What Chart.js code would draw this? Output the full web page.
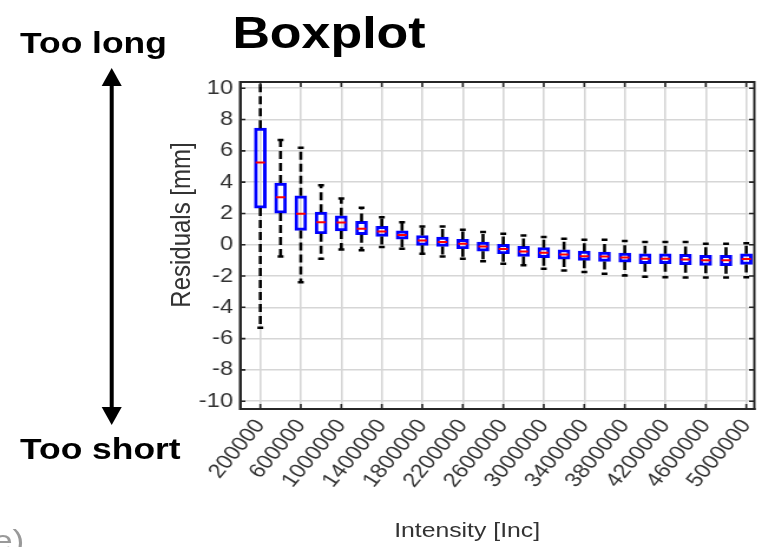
<!DOCTYPE html>
<html><head><meta charset="utf-8">
<script src="https://cdn.jsdelivr.net/npm/chart.js@4.4.1/dist/chart.umd.min.js"></script>
<style>
html,body{margin:0;padding:0;background:#fff;overflow:hidden;width:762px;height:547px}
#wrap{position:absolute;left:0;top:0;width:646px;height:547px;transform:scaleX(1.1796);transform-origin:0 0}
#c{position:absolute;left:0;top:0}
.t{position:absolute;font-family:"Liberation Sans",Arial,sans-serif;white-space:nowrap;line-height:1}
svg{position:absolute;left:0;top:0}
</style></head><body>
<div id="wrap">
<canvas id="c" width="646" height="547"></canvas>
<svg width="646" height="547">
  <line x1="94.7" y1="84" x2="94.7" y2="409" stroke="#000" stroke-width="3.4"/>
  <polygon points="94.7,68 86.2,86 103.2,86" fill="#000"/>
  <polygon points="94.7,425 86.2,407 103.2,407" fill="#000"/>
</svg>
<div class="t" style="left:197px;top:11px;font-size:44px;font-weight:bold;color:#000">Boxplot</div>
<div class="t" style="left:17px;top:28px;font-size:30px;font-weight:bold;color:#000">Too long</div>
<div class="t" style="left:17px;top:434px;font-size:30px;font-weight:bold;color:#000">Too short</div>
<div class="t" style="left:-16px;top:526px;font-size:30px;color:#999">(e)</div>
<div class="t" style="left:296px;top:519px;width:200px;text-align:center;font-size:21px;color:#333">Intensity [Inc]</div>
<div class="t" style="left:3px;top:213px;width:300px;text-align:center;font-size:24px;color:#333;transform:rotate(-90deg);transform-origin:150px 12px;">Residuals [mm]</div>
</div>
<script>
const intensities = [200000, 400000, 600000, 800000, 1000000, 1200000, 1400000, 1600000, 1800000, 2000000,
  2200000, 2400000, 2600000, 2800000, 3000000, 3200000, 3400000, 3600000, 3800000, 4000000,
  4200000, 4400000, 4600000, 4800000, 5000000];
const q1 = [2.34, 2.02, 0.91, 0.70, 0.88, 0.64, 0.53, 0.35, -0.04, -0.11,
  -0.26, -0.41, -0.58, -0.75, -0.83, -0.92, -1.00, -1.07, -1.11, -1.21,
  -1.21, -1.28, -1.32, -1.34, -1.26];
const medians = [5.26, 3.04, 1.98, 1.44, 1.42, 1.02, 0.85, 0.62, 0.27, 0.17,
  0.06, -0.11, -0.28, -0.43, -0.51, -0.62, -0.73, -0.75, -0.81, -0.90,
  -0.90, -0.94, -1.00, -1.00, -0.92];
const q3 = [7.45, 3.94, 3.13, 2.08, 1.85, 1.49, 1.17, 0.89, 0.59, 0.49,
  0.34, 0.17, 0.02, -0.11, -0.19, -0.32, -0.41, -0.47, -0.54, -0.58,
  -0.58, -0.62, -0.68, -0.68, -0.58];
const whiskerLow = [-5.3, -0.75, -2.4, -0.9, -0.3, -0.36, -0.15, -0.26, -0.58, -0.75,
  -0.9, -1.05, -1.21, -1.32, -1.53, -1.64, -1.75, -1.85, -1.96, -2.05,
  -2.08, -2.1, -2.1, -2.1, -2.08];
const whiskerHigh = [10.9, 6.7, 6.2, 3.8, 2.95, 2.36, 1.76, 1.44, 1.17, 1.17,
  0.96, 0.81, 0.70, 0.59, 0.49, 0.38, 0.32, 0.32, 0.23, 0.17,
  0.17, 0.17, 0.06, 0.06, 0.10];
const xTickValues = [200000, 600000, 1000000, 1400000, 1800000, 2200000, 2600000,
  3000000, 3400000, 3800000, 4200000, 4600000, 5000000];
const yTickValues = [-10, -8, -6, -4, -2, 0, 2, 4, 6, 8, 10];

const boxData = intensities.map((x, i) => ({x: x, y: [q1[i], q3[i]]}));
const medianData = intensities.map((x, i) => ({x: x, y: medians[i]}));
const whiskerData = [];
intensities.forEach((x, i) => {
  whiskerData.push({x: x, y: q3[i]}, {x: x, y: whiskerHigh[i]}, {x: x, y: null},
                   {x: x, y: q1[i]}, {x: x, y: whiskerLow[i]}, {x: x, y: null});
});
const capData = [];
intensities.forEach((x, i) => {
  capData.push({x: x, y: whiskerHigh[i]}, {x: x, y: whiskerLow[i]});
});

const frame = {
  id: 'frame',
  afterDraw(chart) {
    const {ctx, chartArea: a, scales} = chart;
    ctx.save();
    ctx.strokeStyle = '#262626';
    ctx.lineWidth = 2;
    ctx.strokeRect(a.left, a.top, a.right - a.left, a.bottom - a.top);
    ctx.lineWidth = 1.6;
    ctx.beginPath();
    yTickValues.forEach(v => {
      const y = scales.y.getPixelForValue(v);
      ctx.moveTo(a.left, y); ctx.lineTo(a.left + 4.5, y);
      ctx.moveTo(a.right, y); ctx.lineTo(a.right - 4.5, y);
    });
    xTickValues.forEach(v => {
      const x = scales.x.getPixelForValue(v);
      ctx.moveTo(x, a.bottom); ctx.lineTo(x, a.bottom - 5);
      ctx.moveTo(x, a.top); ctx.lineTo(x, a.top + 5);
    });
    ctx.stroke();
    ctx.restore();
  }
};

new Chart(document.getElementById('c'), {
  data: {
    datasets: [
      {type: 'scatter', data: medianData, pointStyle: 'line', pointRadius: 4, borderColor: '#ff0000',
       pointBorderWidth: 2, borderWidth: 2, clip: 0},
      {type: 'scatter', data: capData, pointStyle: 'line', pointRadius: 2.5, borderColor: '#000',
       pointBorderWidth: 2.5, borderWidth: 2.5, clip: 0},
      {type: 'line', data: whiskerData, borderColor: '#000', borderWidth: 2.6, borderDash: [8, 4],
       pointRadius: 0, spanGaps: false, fill: false, clip: 0},
      {type: 'bar', data: boxData, backgroundColor: 'rgba(0,0,0,0)', borderColor: '#0000ff',
       borderWidth: 2.3, borderSkipped: false, barThickness: 10}
    ]
  },
  options: {
    responsive: false,
    animation: false,
    events: [],
    layout: {padding: {left: 0, right: 3, top: 82, bottom: 0}},
    plugins: {legend: {display: false}, tooltip: {enabled: false}, title: {display: false}},
    scales: {
      x: {
        type: 'linear', min: 0, max: 5080000, offset: false,
        afterBuildTicks: s => { s.ticks = xTickValues.map(v => ({value: v})); },
        afterFit: s => { s.height = 138; s.paddingLeft = 0; s.paddingRight = 0; },
        grid: {color: '#d6d6d6', lineWidth: 1.6, drawTicks: false, offset: false},
        border: {display: true, color: '#262626', width: 2},
        ticks: {autoSkip: false, minRotation: 54, maxRotation: 54, padding: 6,
                color: '#333', font: {family: '"Liberation Sans", Arial, sans-serif', size: 20},
                callback: v => String(v)}
      },
      y: {
        type: 'linear', min: -10.5, max: 10.4,
        afterBuildTicks: s => { s.ticks = yTickValues.map(v => ({value: v})); },
        afterFit: s => { s.width = 203.5; s.paddingTop = 0; s.paddingBottom = 0; },
        grid: {color: '#d6d6d6', lineWidth: 1.6, drawTicks: false},
        border: {display: true, color: '#262626', width: 2},
        ticks: {padding: 6, color: '#333', font: {family: '"Liberation Sans", Arial, sans-serif', size: 20},
                callback: v => String(v)}
      }
    }
  },
  plugins: [frame]
});
</script>
</body></html>
